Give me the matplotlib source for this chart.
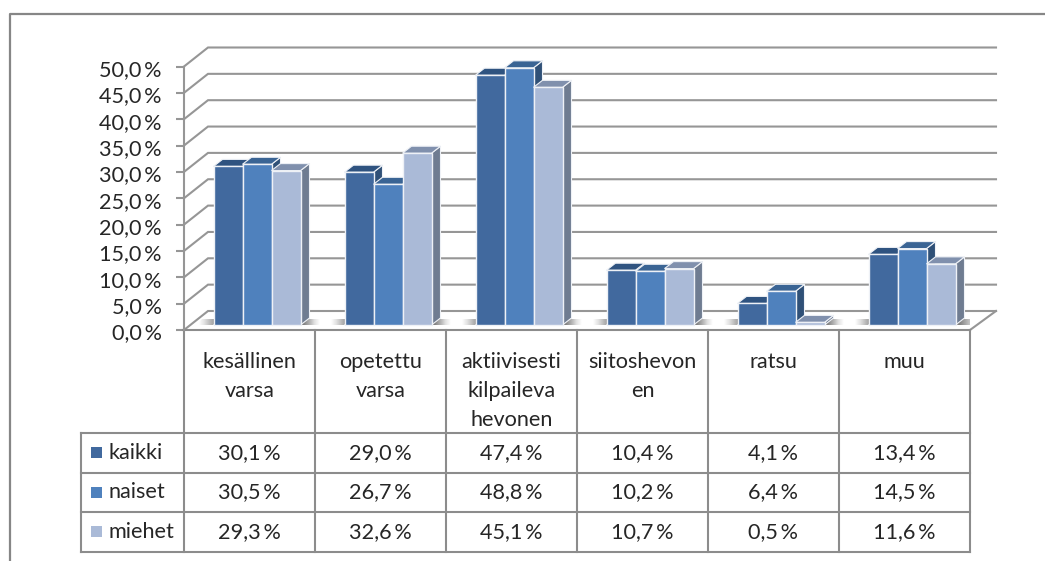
import numpy as np
import matplotlib
matplotlib.use('Agg')
import matplotlib.pyplot as plt
from matplotlib.patches import Polygon
from matplotlib.transforms import ScaledTranslation

plt.rcParams['font.family'] = ['Lato', 'DejaVu Sans']

categories = ['kesällinen\nvarsa', 'opetettu\nvarsa', 'aktiivisesti\nkilpaileva\nhevonen',
              'siitoshevon\nen', 'ratsu', 'muu']
series_names = ['kaikki', 'naiset', 'miehet']
kaikki = [30.1, 29.0, 47.4, 10.4, 4.1, 13.4]
naiset = [30.5, 26.7, 48.8, 10.2, 6.4, 14.5]
miehet = [29.3, 32.6, 45.1, 10.7, 0.5, 11.6]
yticks = [0, 5, 10, 15, 20, 25, 30, 35, 40, 45, 50]

front_cols = ['#41699e', '#4f81bd', '#aabad7']
top_cols = ['#2f5380', '#3a6494', '#8090ad']
side_cols = ['#2f5077', '#2f5077', '#6f7c91']
grid_col = '#969696'
line_col = '#8c8c8c'
text_col = '#262626'
fs = 15.6


# pixel helpers, chart units are 131 px per category and 5.27 px per percent
def X(px):
    return (px - 184) / 131.


def Y(py):
    return (330 - py) / 5.27


fig = plt.figure(figsize=(10.45, 5.61), dpi=100)
ax = fig.add_axes([184 / 1045, 1 - 330 / 561, 786 / 1045, 263.5 / 561])
ax.set_xlim(0, 6)
ax.set_ylim(0, 50)
ax.patch.set_alpha(0)

# outer frame of the picture
ax.plot([X(10), X(10), X(1045)], [Y(561), Y(14), Y(14)], color='#868686', lw=1.6, clip_on=False)

# walls: diagonal on the left, gridline across the back, floor edge on the right
dx, dy = 24 / 131., 19 / 5.27
for t in yticks:
    ax.plot([0, dx, X(996)], [t, t + dy, t + dy], color=grid_col, lw=1.5, clip_on=False, zorder=1,
            solid_joinstyle='miter')
ax.plot([6, X(996)], [0, dy], color=grid_col, lw=1.5, clip_on=False, zorder=1)

# floor shadows in the gaps between the groups
base = 5 / 5.27
ramp = np.array([[0.5, 0.68, 0.88, 1, 1, 1, 0.88, 0.72, 0.58]])
gaps = [(196, 213), (301, 344), (432, 475), (563, 606), (694, 737), (825, 868), (956, 985)]
for a, b in gaps:
    im = ax.imshow(ramp[:, -4:] if a == 196 else ramp[:, :5] if a == 956 else ramp, cmap='gray', vmin=0, vmax=1,
                   extent=[X(a), X(b + 6), base, base + 6 / 5.27], aspect='auto', zorder=1.5, clip_on=True,
                   interpolation='bilinear')
    clip = Polygon([(X(a), base), (X(b), base), (X(b + 6), base + 6 / 5.27), (X(a + 6), base + 6 / 5.27)],
                   transform=ax.transData)
    im.set_clip_path(clip)
ax.set_xlim(0, 6)
ax.set_ylim(0, 50)

# bars with their 3d top and side faces
bar_w = 29 / 131.
depth_x, depth_y = 9 / 131., 7 / 5.27
x = np.arange(6)
for s, vals in enumerate([kaikki, naiset, miehet]):
    left = x + (29.5 + s * 29) / 131.
    for lft, v in zip(left, vals):
        top = base + v
        z = 2 + s + lft * 0.001
        ax.add_patch(Polygon([(lft + bar_w, base), (lft + bar_w + depth_x, base + depth_y),
                              (lft + bar_w + depth_x, top + depth_y), (lft + bar_w, top)],
                             fc=side_cols[s], ec='#eef1f6', lw=0.8, zorder=z, clip_on=False))
        ax.add_patch(Polygon([(lft, top), (lft + depth_x, top + depth_y),
                              (lft + bar_w + depth_x, top + depth_y), (lft + bar_w, top)],
                             fc=top_cols[s], ec='#eef1f6', lw=0.8, zorder=z, clip_on=False))
    ax.bar(left, vals, bar_w, bottom=base, align='edge', color=front_cols[s], edgecolor='#eef1f6', lw=1.0,
           zorder=2 + s + 0.01)

# value axis
ax.set_xticks([])
ax.set_yticks(yticks)
ax.set_yticklabels([f'{t:.1f}'.replace('.', ',') + '\u2009%' for t in yticks], fontsize=fs, color=text_col)
ax.tick_params(axis='y', length=6, width=1.5, color=grid_col, pad=10)
nudge = ScaledTranslation(0, -1.5 / 100, fig.dpi_scale_trans)
for lab in ax.get_yticklabels():
    lab.set_transform(lab.get_transform() + nudge)
for name in ['top', 'right', 'bottom']:
    ax.spines[name].set_visible(False)
ax.spines['left'].set_color(grid_col)
ax.spines['left'].set_linewidth(1.5)

# data table under the chart
table_rows = [330, 433, 473, 512, 552]
for i, py in enumerate(table_rows):
    ax.plot([X(183 if i == 0 else 81), 6], [Y(py), Y(py)], color=line_col, lw=1.5, clip_on=False)
for i in range(7):
    ax.plot([i, i], [Y(330), Y(552)], color=line_col, lw=1.5, clip_on=False)
ax.plot([X(81), X(81)], [Y(433), Y(552)], color=line_col, lw=1.5, clip_on=False)

for i, name in enumerate(categories):
    for j, part in enumerate(name.split('\n')):
        ax.text(i + 0.5, Y(362 + j * 29), part, ha='center', va='center', fontsize=fs, color=text_col, clip_on=False)

for s, vals in enumerate([kaikki, naiset, miehet]):
    cy = (table_rows[s + 1] + table_rows[s + 2]) / 2.
    ax.add_patch(Polygon([(X(91), Y(cy - 6)), (X(102), Y(cy - 6)), (X(102), Y(cy + 5)), (X(91), Y(cy + 5))],
                         fc=front_cols[s], ec='none', clip_on=False))
    ax.text(X(108), Y(cy), series_names[s], ha='left', va='center', fontsize=fs, color=text_col, clip_on=False)
    for i, v in enumerate(vals):
        ax.text(i + 0.5, Y(cy), f'{v:.1f}'.replace('.', ',') + '\u2009%', ha='center', va='center', fontsize=fs,
                color=text_col, clip_on=False)

fig.savefig('out.png', dpi=100)
